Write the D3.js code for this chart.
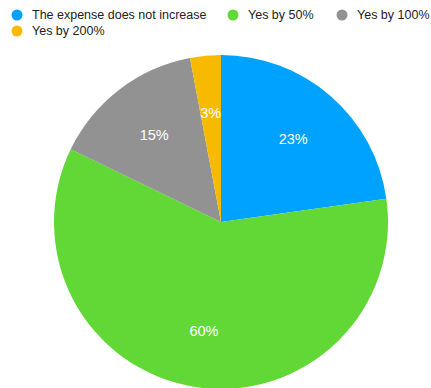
<!DOCTYPE html>
<html><head><meta charset="utf-8">
<script src="https://cdn.jsdelivr.net/npm/d3@7"></script>
<style>html,body{margin:0;padding:0;background:#fff;} svg{display:block;}</style>
</head><body>
<svg id="chart" width="431" height="388"></svg>
<script>
const categories = ["The expense does not increase", "Yes by 50%", "Yes by 100%", "Yes by 200%"];
const values = [23, 60, 15, 3];
const labels = ["23%", "60%", "15%", "3%"];
const colors = ["#00A2FF", "#61D836", "#929292", "#F8BA00"];

const svg = d3.select("#chart");
const font = "'Liberation Sans', Arial, Helvetica, sans-serif";
const cx = 221, cy = 222, R = 167;

const color = d3.scaleOrdinal().domain(categories).range(colors);
const data = categories.map((c, i) => ({cat: c, value: values[i], label: labels[i]}));
const pie = d3.pie().value(d => d.value).sort(null);
const arc = d3.arc().innerRadius(0).outerRadius(R);
const labelArc = d3.arc().innerRadius(110).outerRadius(110);

const g = svg.append("g").attr("transform", `translate(${cx},${cy})`);
const arcs = pie(data);
g.selectAll("path").data(arcs).join("path")
  .attr("d", arc).attr("fill", d => color(d.data.cat));
g.selectAll("text").data(arcs).join("text")
  .attr("transform", d => `translate(${labelArc.centroid(d)})`)
  .attr("text-anchor", "middle").attr("dy", "0.35em")
  .attr("fill", "#fff").attr("font-family", font).attr("font-size", "14.5px")
  .text(d => d.data.label);

// legend
const legendPos = [[17, 15], [233, 15], [342, 15], [17, 31]];
const lg = svg.append("g");
categories.forEach((c, i) => {
  const [x, y] = legendPos[i];
  lg.append("circle").attr("cx", x).attr("cy", y).attr("r", 5.5).attr("fill", color(c));
  lg.append("text").attr("x", x + 15).attr("y", y).attr("dy", "0.35em")
    .attr("font-family", font).attr("font-size", "12.5px").attr("fill", "#222").text(c);
});
</script>
</body></html>
